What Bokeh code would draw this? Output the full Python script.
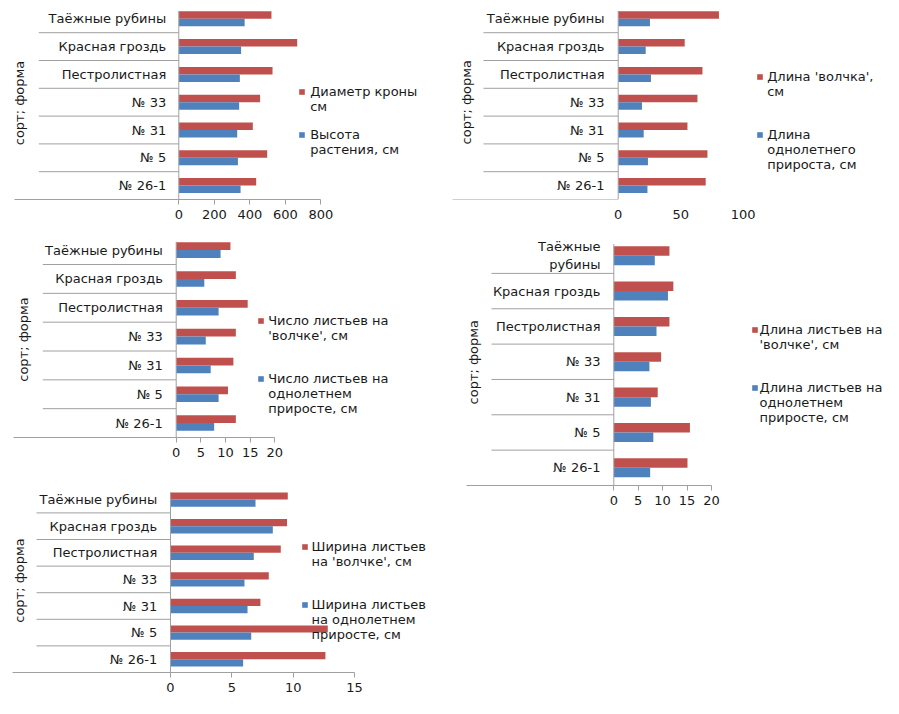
import numpy as np
from bokeh.plotting import figure
from bokeh.models import Range1d, FixedTicker, Legend, LegendItem, Label
from bokeh.layouts import row, column
from bokeh.embed import file_html
from bokeh.resources import INLINE
from bokeh.core.properties import value

# ---------------- data ----------------
categories = ["Таёжные рубины", "Красная гроздь", "Пестролистная",
              "№ 33", "№ 31", "№ 5", "№ 26-1"]
categories_p4 = ["Таёжные\nрубины", "Красная гроздь", "Пестролистная",
                 "№ 33", "№ 31", "№ 5", "№ 26-1"]

crown_diameter = [522, 667, 528, 458, 417, 498, 436]
plant_height = [371, 351, 344, 340, 329, 333, 348]

shoot_length = [80.6, 53.2, 67.4, 63.4, 55.4, 71.4, 70.0]
annual_growth_length = [25.4, 22.0, 26.2, 19.0, 20.4, 23.8, 23.4]

leaves_count_shoot = [11.0, 12.1, 14.5, 12.1, 11.6, 10.5, 12.1]
leaves_count_annual = [9.0, 5.7, 8.6, 6.0, 7.0, 8.6, 7.7]

leaf_length_shoot = [11.4, 12.2, 11.4, 9.7, 9.0, 15.6, 15.1]
leaf_length_annual = [8.4, 11.1, 8.75, 7.3, 7.6, 8.1, 7.45]

leaf_width_shoot = [9.56, 9.5, 8.99, 8.01, 7.33, 12.82, 12.63]
leaf_width_annual = [6.93, 8.34, 6.79, 6.03, 6.28, 6.58, 5.92]

ticks_p1 = [0, 200, 400, 600, 800]
ticks_p2 = [0, 50, 100]
ticks_p3 = [0, 5, 10, 15, 20]
ticks_p4 = [0, 5, 10, 15, 20]
ticks_p5 = [0, 5, 10, 15]

axis_title = "сорт; форма"

RED = "#C0504D"
BLUE = "#4F81BD"
GRAY = "#a0a0a0"
TXT = "#1a1a1a"
FONT = "DejaVu Sans"
FS = "13px"
LH = 1.2


def panel(fig_x, fig_y, w, h, bottom, x0, ppu, row_h, cats, red, blue,
          red_label, blue_label, ticks, sep_left, axis_left, axis_line,
          label_gap, title_c, leg):
    n = len(cats)
    frame_h = bottom - fig_y
    xs = (fig_x - x0) / ppu
    xe = (fig_x + w - x0) / ppu
    ye = frame_h / row_h
    p = figure(width=w, height=h, x_range=Range1d(xs, xe), y_range=Range1d(0, ye),
               output_backend="svg", toolbar_location=None,
               x_axis_location="below", y_axis_location=None,
               min_border_left=0, min_border_right=0, min_border_top=0,
               min_border_bottom=h - frame_h)
    p.outline_line_color = None
    p.xgrid.visible = False
    p.ygrid.visible = False
    p.background_fill_color = "white"
    p.border_fill_color = "white"

    ax = p.xaxis[0]
    ax.ticker = FixedTicker(ticks=ticks)
    ax.minor_tick_line_color = None
    ax.major_label_text_font = FONT
    ax.major_label_text_font_size = FS
    ax.major_label_text_color = TXT
    if axis_line:
        ax.bounds = ((axis_left - x0) / ppu, ticks[-1])
        ax.axis_line_color = GRAY
        ax.major_tick_line_color = GRAY
        ax.major_tick_out = 5
        ax.major_tick_in = 0
        ax.major_label_standoff = 5
    else:
        ax.axis_line_color = None
        ax.major_tick_line_color = None
        ax.major_tick_out = 0
        ax.major_tick_in = 0
        ax.major_label_standoff = 10

    ypos = n - 0.5 - np.arange(n)
    bh = 0.27
    r_red = p.hbar(y=ypos + bh / 2, left=0, right=red, height=bh,
                   fill_color=RED, line_color=None)
    r_blue = p.hbar(y=ypos - bh / 2, left=0, right=blue, height=bh,
                    fill_color=BLUE, line_color=None)

    # category separators
    sep_y = list(range(1, n))
    sx0 = [(sep_left - x0) / ppu] * len(sep_y)
    if not axis_line:
        sep_y = [0] + sep_y
        sx0 = [(axis_left - x0) / ppu] + sx0
    p.segment(x0=sx0, y0=sep_y, x1=[0] * len(sep_y), y1=sep_y,
              line_color=GRAY, line_width=1)
    # vertical category axis
    p.segment(x0=[0], y0=[0], x1=[0], y1=[n - 6.0 / row_h],
              line_color=GRAY, line_width=1)

    p.text(x=[0] * n, y=ypos, text=cats, x_offset=-label_gap,
           text_align="right", text_baseline="middle",
           text_font=value(FONT), text_font_size=FS, text_color=TXT,
           text_line_height=LH)

    p.add_layout(Label(x=title_c[0] - fig_x, y=bottom - title_c[1],
                       x_units="screen", y_units="screen", text=axis_title,
                       angle=np.pi / 2, text_align="center", text_baseline="middle",
                       text_font=FONT, text_font_size=FS, text_color=TXT))

    for rend, lab, (sqx, first_y, text_left) in (
            (r_red, red_label, leg[0]), (r_blue, blue_label, leg[1])):
        gw = 7
        lh = 13 * LH
        nl = lab.count("\n") + 1
        # pad above so that the legend square sits beside the first line
        padded = "\n" * (nl - 1) + lab
        tot = 2 * nl - 1
        top = first_y - (nl - 1 + 0.5) * lh
        lg = Legend(items=[LegendItem(label=padded, renderers=[rend])],
                    location=(sqx - gw / 2 - fig_x, bottom - (top + tot * lh)),
                    orientation="vertical", padding=0, margin=0, spacing=0,
                    glyph_width=gw, glyph_height=gw, label_height=1, label_width=1,
                    label_standoff=int(round(text_left - (sqx + gw / 2))),
                    label_text_font=FONT, label_text_font_size=FS,
                    label_text_color=TXT, label_text_line_height=LH,
                    background_fill_alpha=0, border_line_color=None)
        p.add_layout(lg)
    return p


LW, RW = 450, 433

p1 = panel(0, 0, LW, 230, 199, 178.3, 0.1775, 27.8, categories,
           crown_diameter, plant_height,
           "Диаметр кроны\nсм", "Высота\nрастения, см",
           ticks_p1, 38.3, 14, True, 12.6, (19, 102.5),
           [(301.7, 91, 310), (301.7, 133.5, 310)])

p2 = panel(450, 0, RW, 230, 199, 617.7, 1.25, 27.8, categories,
           shoot_length, annual_growth_length,
           "Длина 'волчка',\nсм", "Длина\nоднолетнего\nприроста, см",
           ticks_p2, 483, 452, False, 13.7, (465.7, 101.7),
           [(759.7, 76, 766.7), (759.7, 132.7, 766.7)])

p3 = panel(0, 230, LW, 240, 437, 175.7, 4.93, 28.83, categories,
           leaves_count_shoot, leaves_count_annual,
           "Число листьев на\n'волчке', см", "Число листьев на\nоднолетнем\nприросте, см",
           ticks_p3, 42.3, 13, True, 13.4, (23.3, 339),
           [(260.7, 320, 268.3), (260.7, 376.7, 268.3)])

p4 = panel(450, 230, RW, 290, 485, 613.3, 4.88, 35.35, categories_p4,
           leaf_length_shoot, leaf_length_annual,
           "Длина листьев на\n'волчке', см", "Длина листьев на\nоднолетнем\nприросте, см",
           ticks_p4, 491, 465.7, True, 13.3, (473.3, 361.7),
           [(754, 329, 760), (754, 385.7, 760)])

p5 = panel(0, 470, LW, 228, 672, 170, 12.267, 26.6, categories,
           leaf_width_shoot, leaf_width_annual,
           "Ширина листьев\nна 'волчке', см", "Ширина листьев\nна однолетнем\nприросте, см",
           ticks_p5, 36, 11.7, True, 13.3, (19, 580),
           [(304, 546, 311.7), (304, 602.7, 311.7)])

layout = row(column(p1, p3, p5), column(p2, p4))
open("out.html", "w").write(file_html(layout, INLINE))
